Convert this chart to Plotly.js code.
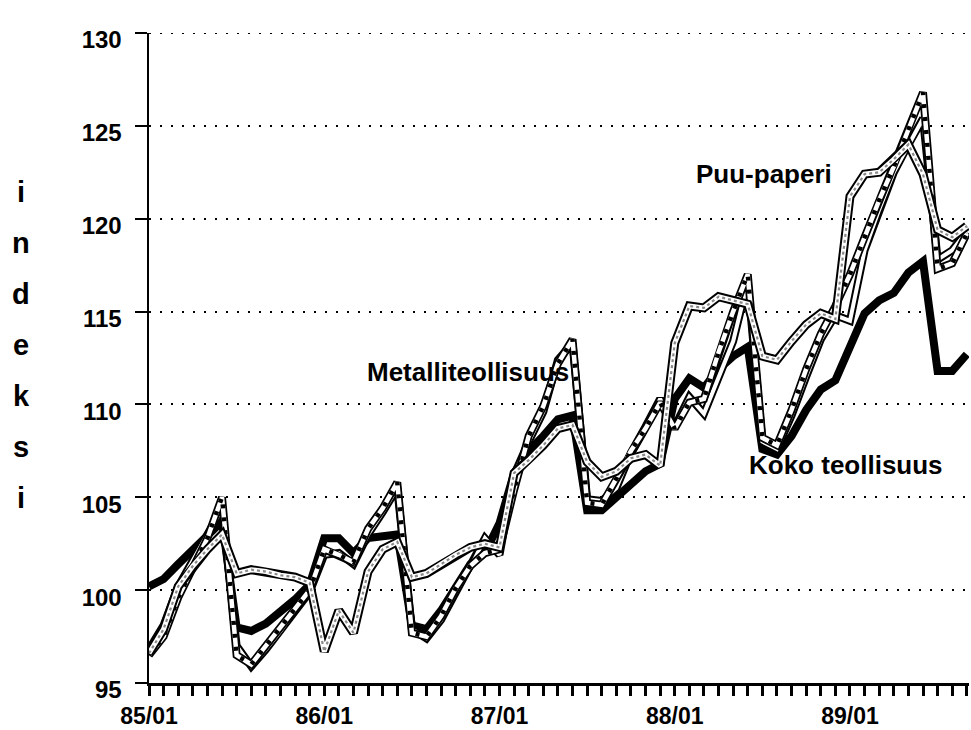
<!DOCTYPE html>
<html>
<head>
<meta charset="utf-8">
<script src="https://cdn.plot.ly/plotly-3.0.1.min.js"></script>
<style>
html,body{margin:0;padding:0;background:#fff;}
#chart{width:971px;height:730px;}
</style>
</head>
<body>
<div id="chart"></div>
<script>
// ---- categories ----
const years = ['85', '86', '87', '88', '89'];
const monthNums = ['01','02','03','04','05','06','07','08','09','10','11','12'];
const months = [];
years.forEach(function (y) { monthNums.forEach(function (m) { months.push(y + '/' + m); }); });
months.length = 57; // 85/01 .. 89/09
const yearTickLabels = ['85/01', '86/01', '87/01', '88/01', '89/01'];
const yTicks = [95, 100, 105, 110, 115, 120, 125, 130];
const axisLetters = ['i', 'n', 'd', 'e', 'k', 's', 'i'];

// ---- series values (index) ----
const kokoTeollisuus = [
  100.2, 100.6, 101.4, 102.2, 103.0, 103.7, 98.0, 97.8, 98.2, 98.8, 99.5, 100.3,
  102.8, 102.8, 102.0, 102.8, 102.9, 103.0, 98.1, 97.9, 98.9, 100.2, 101.4, 102.0,
  103.6, 106.3, 107.5, 108.3, 109.2, 109.4, 104.3, 104.3, 105.0, 105.8, 106.4, 106.8,
  110.3, 111.4, 110.9, 111.9, 112.6, 113.1, 107.6, 107.3, 108.3, 109.7, 110.8, 111.3,
  113.1, 114.9, 115.6, 116.0, 117.1, 117.7, 111.8, 111.8, 112.7
];
const metalliteollisuus = [
  96.5, 97.5, 99.6, 101.2, 102.8, 105.0, 96.5, 96.0, 97.0, 98.0, 99.0, 100.0,
  102.2, 101.9, 101.5, 103.3, 104.4, 105.8, 97.7, 97.5, 98.6, 100.1, 101.3, 102.0,
  102.2, 105.4, 108.3, 109.9, 112.2, 113.5, 104.7, 104.6, 106.0, 107.5, 108.7, 110.1,
  108.7, 110.1, 110.3, 112.8, 115.0, 117.0, 108.2, 107.8, 109.7, 111.9, 113.8, 115.3,
  117.0, 119.0, 121.0, 122.8, 124.8, 126.8, 117.3, 117.6, 119.2
];
const muuTeollisuus = [
  96.8, 98.1, 100.2, 101.6, 102.9, 104.4, 97.0, 95.9, 96.8, 97.8, 98.9, 99.9,
  101.9, 102.0, 101.4, 103.0, 104.2, 105.5, 97.9, 97.4, 98.4, 99.9, 101.2, 102.8,
  101.9, 106.2, 108.0, 109.6, 112.4, 113.3, 104.9, 104.8, 105.5, 107.4, 108.8, 110.3,
  108.8, 110.4, 109.5, 111.4, 113.4, 116.6, 108.0, 107.6, 109.4, 111.5, 113.5, 114.8,
  114.5, 118.3, 120.5, 122.5, 124.0, 125.4, 117.8, 118.3, 119.3
];
const puuPaperi = [
  96.6, 97.9, 100.2, 101.3, 102.2, 103.0, 100.9, 101.1, 101.0, 100.8, 100.7, 100.4,
  96.7, 98.9, 97.7, 101.0, 102.2, 102.6, 100.7, 100.9, 101.4, 101.9, 102.3, 102.5,
  102.3, 106.3, 107.0, 107.8, 108.7, 108.9, 106.9, 106.1, 106.4, 107.1, 107.3, 106.7,
  113.3, 115.3, 115.2, 115.8, 115.6, 115.4, 112.6, 112.4, 113.4, 114.3, 114.9, 114.6,
  121.2, 122.4, 122.5, 123.2, 124.0, 122.4, 119.4, 119.0, 119.6
];

const seriesLabels = [
  { text: 'Puu-paperi', x: 37.35, y: 122.4 },
  { text: 'Metalliteollisuus', x: 14.8, y: 111.75 },
  { text: 'Koko teollisuus', x: 40.95, y: 106.75 }
];

function layer(name, ys, color, width, dash) {
  return {
    x: months, y: ys, name: name, type: 'scatter', mode: 'lines',
    line: { color: color, width: width, dash: dash || 'solid' },
    hoverinfo: 'skip', showlegend: false
  };
}

const traces = [
  layer('Koko teollisuus', kokoTeollisuus, '#000', 8),
  layer('Muu teollisuus', muuTeollisuus, '#000', 8),
  layer('Muu teollisuus', muuTeollisuus, '#fff', 4),
  layer('Metalliteollisuus', metalliteollisuus, '#000', 8),
  layer('Metalliteollisuus', metalliteollisuus, '#fff', 4.5),
  layer('Metalliteollisuus', metalliteollisuus, '#000', 4.5, '4px,9px'),
  layer('Puu-paperi', puuPaperi, '#000', 9),
  layer('Puu-paperi', puuPaperi, '#fff', 5),
  layer('Puu-paperi', puuPaperi, '#8a8a8a', 2.2, 'dot')
];

const font = 'Liberation Sans, Arial, Helvetica, sans-serif';

const annotations = seriesLabels.map(function (s) {
  return {
    text: s.text, x: s.x, y: s.y, xref: 'x', yref: 'y',
    xanchor: 'left', yanchor: 'middle', showarrow: false,
    font: { family: font, size: 26, color: '#000', weight: 'bold' }
  };
});
axisLetters.forEach(function (ch, i) {
  const py = 192 + i * 51;
  annotations.push({
    text: ch, xref: 'paper', yref: 'paper',
    x: (21 - 149) / 820, y: (683 - py) / 650,
    xanchor: 'center', yanchor: 'middle', showarrow: false,
    font: { family: font, size: 29, color: '#000', weight: 'bold' }
  });
});

const layout = {
  width: 971, height: 730,
  margin: { l: 149, r: 2, t: 33, b: 47 },
  paper_bgcolor: '#fff', plot_bgcolor: '#fff',
  showlegend: false,
  xaxis: {
    type: 'category', categoryorder: 'array', categoryarray: months,
    range: [0, 56.15],
    tickmode: 'array', tickvals: months,
    ticktext: months.map(function (m) { return yearTickLabels.indexOf(m) >= 0 ? m : ''; }),
    ticks: 'outside', ticklen: 10, tickwidth: 3, tickcolor: '#000',
    showline: true, linecolor: '#000', linewidth: 3,
    showgrid: false, zeroline: false,
    tickfont: { family: font, size: 23, color: '#000', weight: 'bold' },
    ticklabelstandoff: 0
  },
  yaxis: {
    range: [95, 130], tickmode: 'array', tickvals: yTicks,
    ticks: 'outside', ticklen: 12, tickwidth: 2, tickcolor: '#000',
    showline: true, linecolor: '#000', linewidth: 2.5,
    showgrid: true, gridcolor: '#000', gridwidth: 2, griddash: '2px,9px',
    zeroline: false,
    tickfont: { family: font, size: 24, color: '#000', weight: 'bold' },
    ticklabelshift: 7, ticklabelstandoff: 8
  },
  shapes: [{
    type: 'line', xref: 'paper', yref: 'y', x0: 0, x1: 1, y0: 130, y1: 130,
    line: { color: '#000', width: 2, dash: '2px,9px' }, layer: 'below'
  }],
  annotations: annotations
};

Plotly.newPlot('chart', traces, layout, { displayModeBar: false, staticPlot: true });
</script>
</body>
</html>
